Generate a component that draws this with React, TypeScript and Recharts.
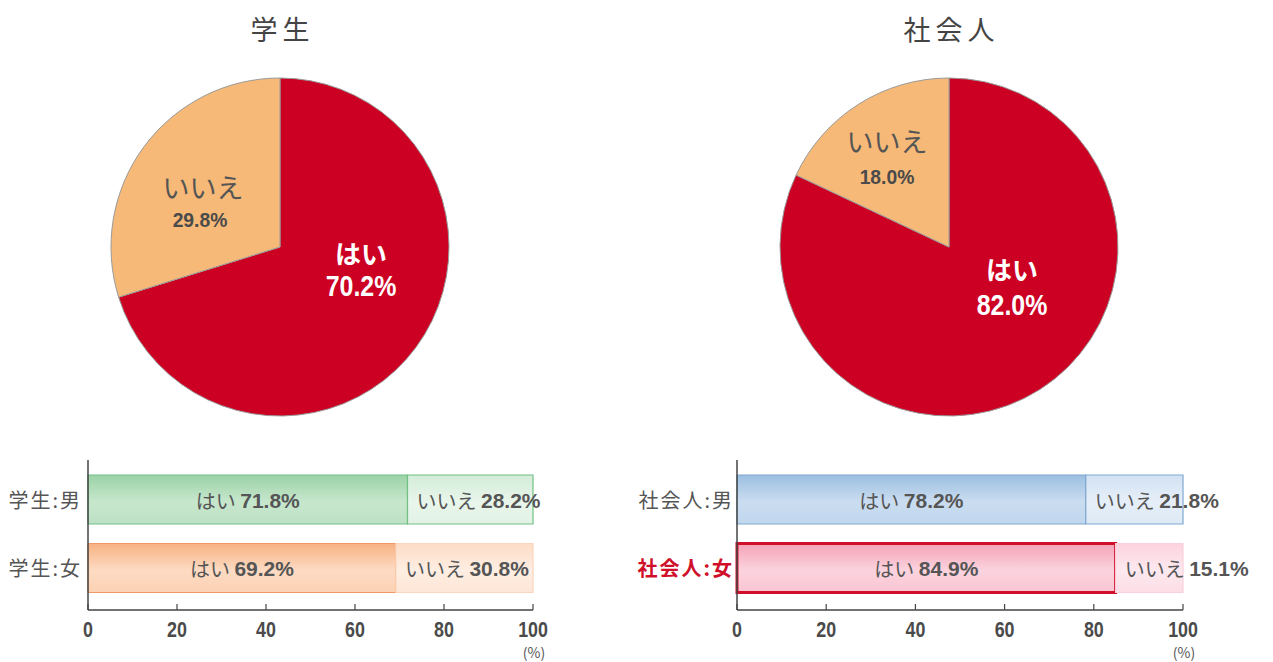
import React from 'react';
import { PieChart, Pie, Cell, BarChart, Bar, XAxis, YAxis, LabelList, Label } from 'recharts';

// answers and shares
const ANSWERS = ['はい', 'いいえ'];
const STUDENT_SHARE = [70.2, 29.8];
const WORKER_SHARE = [82.0, 18.0];

const STUDENT_GROUPS = ['学生:男', '学生:女'];
const STUDENT_YES = [71.8, 69.2];
const STUDENT_NO = [28.2, 30.8];

const WORKER_GROUPS = ['社会人:男', '社会人:女'];
const WORKER_YES = [78.2, 84.9];
const WORKER_NO = [21.8, 15.1];

const X_TICKS = [0, 20, 40, 60, 80, 100];
const HIGHLIGHT_GROUP = '社会人:女';

const JP = "'Noto Sans CJK JP', 'Noto Sans', sans-serif";
const NUM = "'Liberation Sans', Arial, sans-serif";
const TEXT = '#555';

const PIE_COLORS = ['#cc0022', '#f6b978'];

// label placement relative to the pie centre: [name dx, name dy, value dx, value dy]
const STUDENT_PIE_LABELS = [[81, 5, 81, 39], [-77, -61, -80, -27]];
const WORKER_PIE_LABELS = [[63, 21, 63, 58], [-62, -107, -62, -70]];

const BAR_STYLES: Record<string, any> = {
  '学生:男': { yes: 'url(#gStuMYes)', yesStroke: '#72c084', no: 'url(#gStuMNo)', noStroke: '#72c084', w: 1.2 },
  '学生:女': { yes: 'url(#gStuFYes)', yesStroke: '#ef9a66', no: 'url(#gStuFNo)', noStroke: '#fbd6bd', w: 1.2 },
  '社会人:男': { yes: 'url(#gWrkMYes)', yesStroke: '#7fa8cf', no: 'url(#gWrkMNo)', noStroke: '#7fa8cf', w: 1.2 },
  '社会人:女': { yes: 'url(#gWrkFYes)', yesStroke: '#d0102a', no: 'url(#gWrkFNo)', noStroke: '#fbd0dc', w: 3 },
};

const pieData = (shares: number[]) => ANSWERS.map((name, i) => ({ name, value: shares[i] }));
const barData = (groups: string[], yes: number[], no: number[]) =>
  groups.map((group, i) => ({ group, yes: yes[i], no: no[i] }));

// condensed bold numbers: Arial-like bold squeezed horizontally
const NumText = ({ x, y, sx, size, fill, children, dy }: any) => (
  <text
    transform={`translate(${x},${y}) scale(${sx},1)`}
    x={0}
    y={0}
    dy={dy}
    textAnchor="middle"
    dominantBaseline={dy ? undefined : 'central'}
    fill={fill}
    fontFamily={NUM}
    fontWeight={700}
    fontSize={size}
  >
    {children}
  </text>
);

const pieLabel = (offsets: number[][]) => (p: any) => {
  const o = offsets[p.index];
  const isYes = p.index === 0;
  return (
    <g key={`pl-${p.index}`}>
      <text
        x={p.cx + o[0]}
        y={p.cy + o[1]}
        textAnchor="middle"
        dominantBaseline="central"
        fill={isYes ? '#fff' : TEXT}
        fontFamily={JP}
        fontWeight={isYes ? 700 : 400}
        fontSize={isYes ? 26 : 27}
      >
        {p.name}
      </text>
      <NumText
        x={p.cx + o[2]}
        y={p.cy + o[3]}
        sx={isYes ? 0.86 : 0.92}
        size={isYes ? 29 : 21}
        fill={isYes ? '#fff' : '#4a4a4a'}
      >
        {Number(p.value).toFixed(1)}%
      </NumText>
    </g>
  );
};

const PieBlock = ({ title, shares, offsets, left }: any) => (
  <>
    <div
      style={{
        position: 'absolute',
        left: left,
        top: 14,
        width: 400,
        textAlign: 'center',
        fontFamily: JP,
        fontSize: 27,
        lineHeight: '30px',
        letterSpacing: 5,
        paddingLeft: 5,
        boxSizing: 'border-box',
        color: '#444',
      }}
    >
      {title}
    </div>
    <div style={{ position: 'absolute', left: left, top: 47 }}>
      <PieChart width={400} height={400} margin={{ top: 0, right: 0, bottom: 0, left: 0 }}>
        <Pie
          data={pieData(shares)}
          dataKey="value"
          nameKey="name"
          cx={200}
          cy={200}
          outerRadius={169}
          startAngle={90}
          endAngle={-270}
          stroke="#9a9a9a"
          strokeWidth={1}
          labelLine={false}
          label={pieLabel(offsets)}
          isAnimationActive={false}
        >
          {ANSWERS.map((a, i) => (
            <Cell key={a} fill={PIE_COLORS[i]} />
          ))}
        </Pie>
      </PieChart>
    </div>
  </>
);

const GroupTick = ({ x, y, payload }: any) => {
  const hl = payload.value === HIGHLIGHT_GROUP;
  return (
    <text
      x={x + 2}
      y={y}
      textAnchor="end"
      dominantBaseline="central"
      fill={hl ? '#d0102a' : TEXT}
      fontFamily={JP}
      fontWeight={hl ? 700 : 400}
      fontSize={20}
      letterSpacing={2}
    >
      {payload.value}
    </text>
  );
};

const ValueTick = ({ x, y, payload }: any) => (
  <NumText x={x} y={y} dy="0.71em" sx={0.83} size={21.5} fill="#4a4a4a">
    {payload.value}
  </NumText>
);

const yesLabel = (p: any) => (
  <text
    key={`y-${p.index}`}
    x={p.x + p.width / 2}
    y={p.y + p.height / 2}
    textAnchor="middle"
    dominantBaseline="central"
    fill={TEXT}
  >
    <tspan fontFamily={JP} fontSize={20}>はい </tspan>
    <tspan fontFamily={NUM} fontWeight={700} fontSize={21}>{Number(p.value).toFixed(1)}%</tspan>
  </text>
);

const noLabel = (p: any) => (
  <text
    key={`n-${p.index}`}
    x={p.x + 9}
    y={p.y + p.height / 2}
    textAnchor="start"
    dominantBaseline="central"
    fill={TEXT}
  >
    <tspan fontFamily={JP} fontSize={20}>いいえ </tspan>
    <tspan fontFamily={NUM} fontWeight={700} fontSize={21}>{Number(p.value).toFixed(1)}%</tspan>
  </text>
);

const Grad = ({ id, c }: { id: string; c: string[] }) => (
  <linearGradient id={id} x1="0" y1="0" x2="0" y2="1">
    <stop offset="0%" stopColor={c[0]} />
    <stop offset="55%" stopColor={c[1]} />
    <stop offset="100%" stopColor={c[2]} />
  </linearGradient>
);

const BarBlock = ({ data, left, width, yAxisWidth, marginRight, tickGap }: any) => (
  <div style={{ position: 'absolute', left: left, top: 450 }}>
    <BarChart
      width={width}
      height={212}
      data={data}
      layout="vertical"
      margin={{ top: 10, right: marginRight, bottom: 0, left: 0 }}
    >
      <defs>
        <Grad id="gStuMYes" c={['#9bd2a6', '#c7e7cd', '#bde1c4']} />
        <Grad id="gStuMNo" c={['#d3ecd8', '#e9f6eb', '#e2f2e5']} />
        <Grad id="gStuFYes" c={['#f7b282', '#fddbc3', '#fcd1b3']} />
        <Grad id="gStuFNo" c={['#fddcc6', '#feeee3', '#fde6d6']} />
        <Grad id="gWrkMYes" c={['#9bbfe1', '#cbddf0', '#c0d7ee']} />
        <Grad id="gWrkMNo" c={['#d2e2f2', '#e6eff9', '#dde9f5']} />
        <Grad id="gWrkFYes" c={['#f5a2b7', '#fbd3de', '#f9c5d3']} />
        <Grad id="gWrkFNo" c={['#fcd3de', '#fde9ef', '#fcdde6']} />
      </defs>
      <XAxis
        type="number"
        domain={[0, 100]}
        ticks={X_TICKS}
        height={52}
        axisLine={{ stroke: '#444', strokeWidth: 1.5 }}
        tickLine={{ stroke: '#444', strokeWidth: 1.2 }}
        tickSize={-6}
        tickMargin={18}
        tick={<ValueTick />}
        interval={0}
      >
        <Label
          content={({ viewBox }: any) => (
            <text
              x={viewBox.x + viewBox.width + 1}
              y={viewBox.y + 48}
              textAnchor="middle"
              fill={TEXT}
              fontSize={14}
              fontFamily={JP}
            >
              (%)
            </text>
          )}
        />
      </XAxis>
      <YAxis
        type="category"
        dataKey="group"
        width={yAxisWidth}
        axisLine={{ stroke: '#444', strokeWidth: 1.5 }}
        tickLine={false}
        tickSize={0}
        tickMargin={tickGap}
        tick={<GroupTick />}
        padding={{ top: 5, bottom: 8 }}
      />
      <Bar dataKey="yes" stackId="s" barSize={49} isAnimationActive={false}>
        {data.map((d: any) => (
          <Cell
            key={d.group}
            fill={BAR_STYLES[d.group].yes}
            stroke={BAR_STYLES[d.group].yesStroke}
            strokeWidth={BAR_STYLES[d.group].w}
          />
        ))}
        <LabelList dataKey="yes" content={yesLabel} />
      </Bar>
      <Bar dataKey="no" stackId="s" barSize={49} isAnimationActive={false}>
        {data.map((d: any) => (
          <Cell key={d.group} fill={BAR_STYLES[d.group].no} stroke={BAR_STYLES[d.group].noStroke} strokeWidth={1.2} />
        ))}
        <LabelList dataKey="no" content={noLabel} />
      </Bar>
    </BarChart>
  </div>
);

export default function App() {
  return (
    <div
      style={{
        position: 'absolute',
        left: 0,
        top: 0,
        width: 1273,
        height: 662,
        background: '#fff',
        overflow: 'hidden',
      }}
    >
      <PieBlock title="学生" shares={STUDENT_SHARE} offsets={STUDENT_PIE_LABELS} left={80} />
      <PieBlock title="社会人" shares={WORKER_SHARE} offsets={WORKER_PIE_LABELS} left={749} />
      <BarBlock
        data={barData(STUDENT_GROUPS, STUDENT_YES, STUDENT_NO)}
        left={0}
        width={600}
        yAxisWidth={88}
        marginRight={67}
        tickGap={8}
      />
      <BarBlock
        data={barData(WORKER_GROUPS, WORKER_YES, WORKER_NO)}
        left={610}
        width={663}
        yAxisWidth={127}
        marginRight={90}
        tickGap={5}
      />
    </div>
  );
}
